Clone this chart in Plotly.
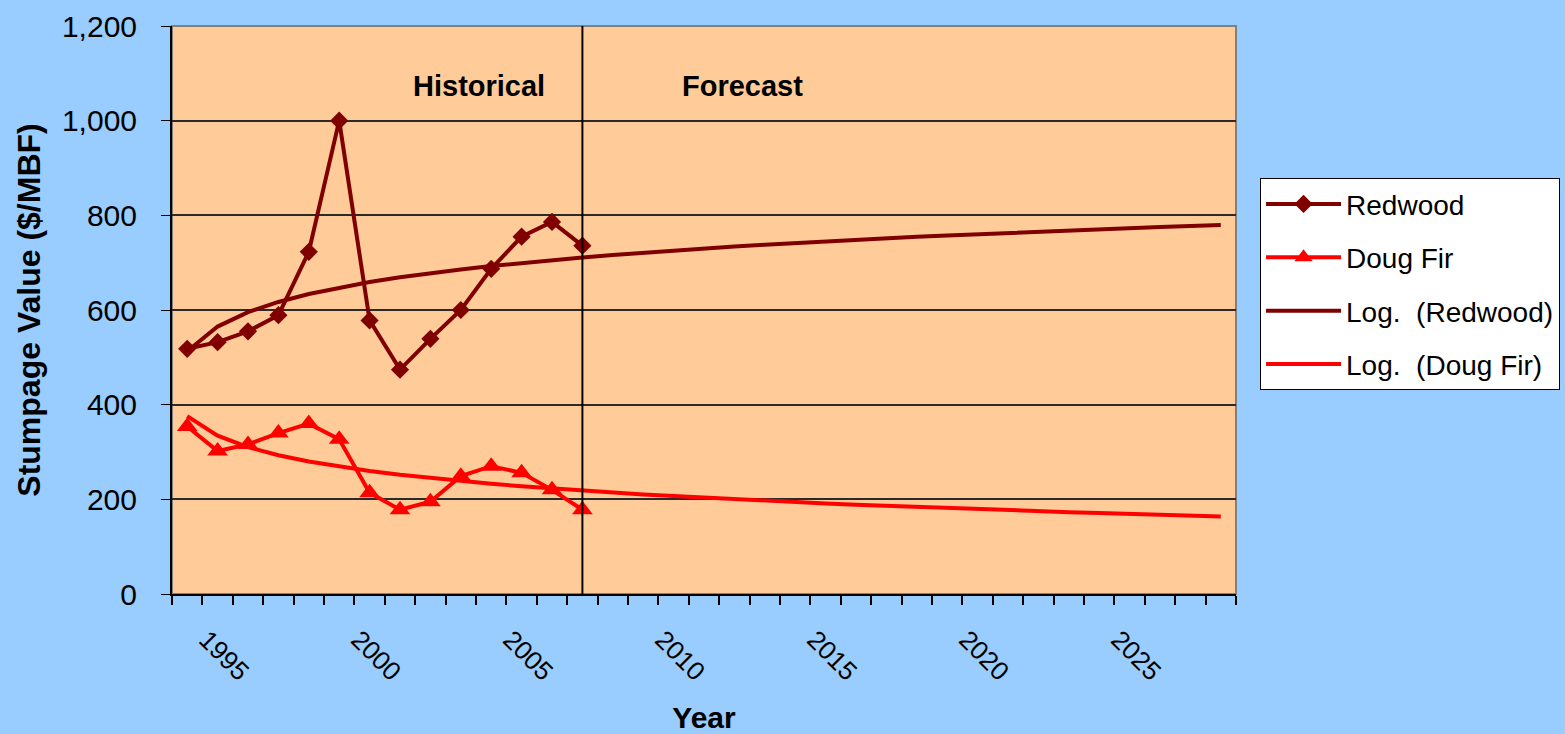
import numpy as np
import plotly.graph_objects as go

# Observed stumpage values ($/MBF)
years_hist = list(range(1994, 2008))
redwood = [518, 532, 555, 589, 723, 1000, 578, 474, 539, 600, 687, 755, 786, 736]
doug_fir = [354, 302, 316, 340, 360, 327, 214, 178, 195, 249, 270, 256, 220, 178]

# Full span of the axis, including the forecast years
years_all = list(range(1994, 2029))
split_year = 2007
year_ticks = [1995, 2000, 2005, 2010, 2015, 2020, 2025]
y_ticks = [0, 200, 400, 600, 800, 1000, 1200]
y_tick_text = ["0", "200", "400", "600", "800", "1,000", "1,200"]

REDWOOD_COLOR = "#800000"
FIR_COLOR = "#FF0000"
FONT = "Liberation Sans, Arial, sans-serif"


def log_trend(values, n_out):
    """Logarithmic least-squares trend y = a*ln(k) + b, k = 1..n (Excel style)."""
    k = np.arange(1, len(values) + 1)
    a, b = np.polyfit(np.log(k), np.asarray(values, dtype=float), 1)
    k_out = np.arange(1, n_out + 1)
    return a * np.log(k_out) + b


red_trend = log_trend(redwood, len(years_all))
fir_trend = log_trend(doug_fir, len(years_all))

fig = go.Figure()

fig.add_trace(go.Scatter(
    x=years_hist, y=redwood, name="Redwood", mode="lines+markers",
    line=dict(color=REDWOOD_COLOR, width=4),
    marker=dict(symbol="diamond", size=14, color=REDWOOD_COLOR),
    legendgroup="a",
))
fig.add_trace(go.Scatter(
    x=years_hist, y=doug_fir, name="Doug Fir", mode="lines+markers",
    line=dict(color=FIR_COLOR, width=4),
    marker=dict(symbol="triangle-up", size=18, color=FIR_COLOR),
    legendgroup="b",
))
fig.add_trace(go.Scatter(
    x=years_all, y=red_trend, name="Log.  (Redwood)", mode="lines",
    line=dict(color=REDWOOD_COLOR, width=4),
    legendgroup="c",
))
fig.add_trace(go.Scatter(
    x=years_all, y=fir_trend, name="Log.  (Doug Fir)", mode="lines",
    line=dict(color=FIR_COLOR, width=4),
    legendgroup="d",
))

# Divider between historical and forecast periods
fig.add_shape(type="line", xref="x", yref="y domain",
              x0=split_year, x1=split_year, y0=0, y1=1,
              line=dict(color="black", width=2))
# Plot-area frame
fig.add_shape(type="rect", xref="x domain", yref="y domain",
              x0=0, x1=1, y0=0, y1=1,
              line=dict(color="#808080", width=2), layer="below")

fig.add_annotation(x=2003.6, y=1074, xref="x", yref="y", text="<b>Historical</b>",
                   showarrow=False, font=dict(family=FONT, size=29, color="black"))
fig.add_annotation(x=2012.25, y=1074, xref="x", yref="y", text="<b>Forecast</b>",
                   showarrow=False, font=dict(family=FONT, size=29, color="black"))

fig.update_layout(
    width=1565, height=734,
    paper_bgcolor="#99CCFF",
    plot_bgcolor="#FFCC99",
    margin=dict(l=172, r=329, t=26, b=140, autoexpand=False),
    font=dict(family=FONT, size=29, color="black"),
    showlegend=True,
    legend=dict(
        x=1.0226, y=0.732, xanchor="left", yanchor="top",
        bgcolor="white", bordercolor="black", borderwidth=1,
        font=dict(family=FONT, size=28, color="black"),
        traceorder="grouped", tracegroupgap=14,
        itemwidth=75,
    ),
    xaxis=dict(
        range=[1993.5, 2028.5],
        tickmode="array", tickvals=year_ticks,
        ticks="", tickangle=45,
        tickfont=dict(family=FONT, size=26, color="black"),
        showgrid=False, zeroline=False,
        showline=True, linecolor="black", linewidth=2,
        minor=dict(tick0=1993.5, dtick=1, ticks="outside", ticklen=9,
                   tickcolor="black", tickwidth=2, showgrid=False),
        ticklabelstandoff=18,
        ticklabelshift=-11,
        automargin=False,
        title=dict(text="<b>Year</b>", font=dict(family=FONT, size=30, color="black"),
                   standoff=22),
    ),
    yaxis=dict(
        range=[0, 1200],
        tickmode="array", tickvals=y_ticks, ticktext=y_tick_text,
        ticks="outside", ticklen=9, tickcolor="black", tickwidth=1,
        tickfont=dict(family=FONT, size=30, color="black"),
        showgrid=True, gridcolor="#2a2a2a", gridwidth=1.5,
        zeroline=False,
        showline=True, linecolor="black", linewidth=2,
        ticklabelstandoff=18,
        automargin=False,
        title=dict(text="<b>Stumpage Value ($/MBF)</b>",
                   font=dict(family=FONT, size=32, color="black"), standoff=12),
    ),
)

fig.write_html("out.html")
